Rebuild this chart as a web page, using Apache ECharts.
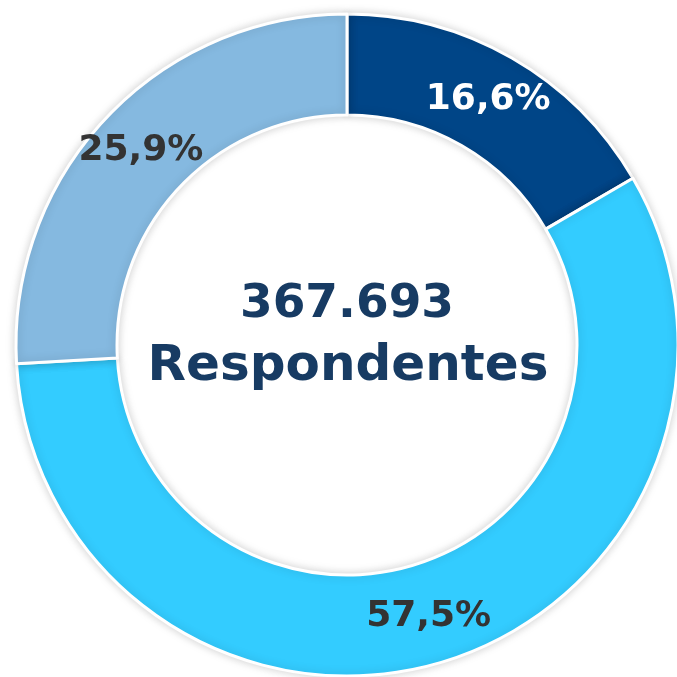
<!DOCTYPE html>
<html>
<head>
<meta charset="utf-8">
<script src="https://cdn.jsdelivr.net/npm/echarts@6/dist/echarts.min.js"></script>
<style>
html, body { margin: 0; padding: 0; background: #fff; }
#chart { width: 677px; height: 677px; }
</style>
</head>
<body>
<div id="chart"></div>
<script>
var categories = ['A', 'B', 'C'];
var values = [16.6, 57.5, 25.9];
var colors = ['#004587', '#33ccff', '#85b9e0'];
var labelColors = ['#ffffff', '#333333', '#333333'];
var totalText = '367.693';
var subText = 'Respondentes';

var pieData = categories.map(function (c, i) {
	return {
		name: c,
		value: values[i],
		itemStyle: { color: colors[i] },
		label: { color: labelColors[i] }
	};
});

var chart = echarts.init(document.getElementById('chart'));
chart.setOption({
	animation: false,
	graphic: [{
		type: 'group',
		z: 10,
		children: [{
			type: 'text',
			x: 347, y: 305,
			style: {
				text: totalText,
				textAlign: 'center',
				textVerticalAlign: 'middle',
				font: 'bold 47px "DejaVu Sans"',
				fill: '#173b63'
			}
		}, {
			type: 'text',
			x: 348, y: 367,
			style: {
				text: subText,
				textAlign: 'center',
				textVerticalAlign: 'middle',
				font: 'bold 50px "DejaVu Sans"',
				fill: '#173b63'
			}
		}]
	}],
	series: [{
		type: 'pie',
		center: [347, 345],
		radius: [230, 331],
		startAngle: 90,
		clockwise: true,
		silent: true,
		itemStyle: {
			borderColor: '#ffffff',
			borderWidth: 3,
			shadowBlur: 10,
			shadowColor: 'rgba(0,0,0,0.18)'
		},
		label: {
			show: true,
			position: 'inside',
			fontFamily: 'DejaVu Sans',
			fontWeight: 'bold',
			fontSize: 36,
			formatter: function (p) {
				return p.value.toFixed(1).replace('.', ',') + '%';
			}
		},
		labelLine: { show: false },
		data: pieData
	}]
});
</script>
</body>
</html>
